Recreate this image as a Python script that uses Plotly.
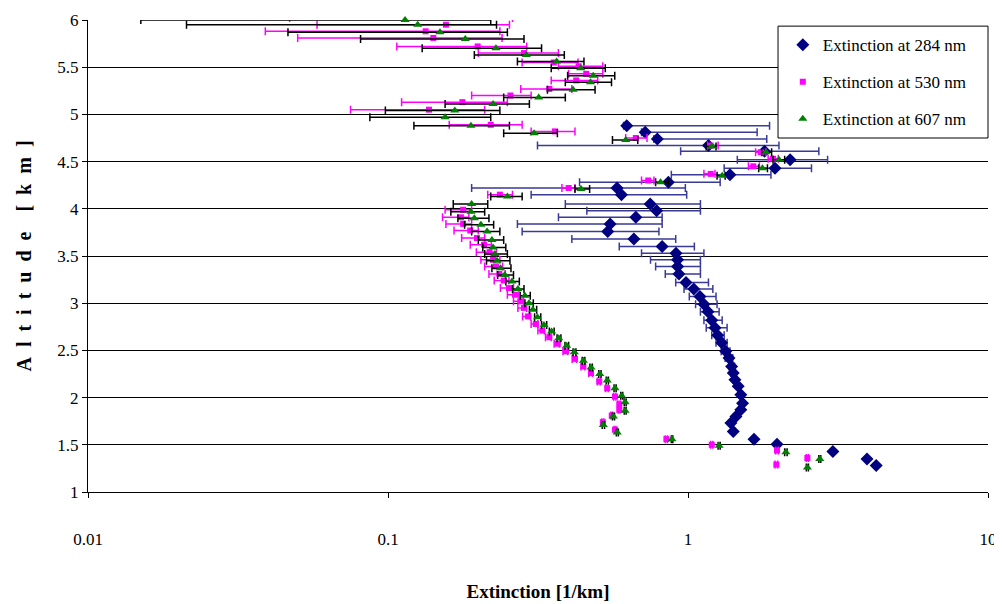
import plotly.graph_objects as go

# ---------------- data ----------------
alt_284 = [4.88, 4.81, 4.74, 4.67, 4.61, 4.52, 4.43, 4.36, 4.28, 4.22,
           4.15, 4.05, 3.98, 3.91, 3.84, 3.76, 3.68, 3.60, 3.53, 3.46,
           3.39, 3.31, 3.22, 3.15, 3.07, 2.99, 2.91, 2.82, 2.74, 2.66,
           2.58, 2.49, 2.42, 2.33, 2.26, 2.19, 2.12, 2.03, 1.94, 1.87,
           1.80, 1.73, 1.64, 1.56, 1.505, 1.43, 1.35, 1.28]
ext_284 = [0.625, 0.72, 0.79, 1.17, 1.80, 2.19, 1.95, 1.38, 0.86, 0.58,
           0.60, 0.748, 0.786, 0.67, 0.55, 0.54, 0.66, 0.82, 0.912, 0.923,
           0.923, 0.933, 0.985, 1.045, 1.096, 1.13, 1.166, 1.20, 1.23, 1.256,
           1.295, 1.336, 1.37, 1.398, 1.415, 1.434, 1.47, 1.50, 1.52, 1.50,
           1.445, 1.39, 1.415, 1.66, 1.98, 3.04, 3.95, 4.24]
lo_284 = [0.61, 0.70, 0.77, 0.315, 0.945, 1.46, 1.32, 0.88, 0.435, 0.19,
          0.30, 0.39, 0.46, 0.37, 0.27, 0.28, 0.41, 0.59, 0.70, 0.75,
          0.78, 0.84, 0.91, 0.97, 1.01, 1.06, 1.10, 1.13, 1.15, 1.20,
          1.24, 1.29, 1.33, 1.37, 1.39, 1.41, 1.45, 1.48, 1.50, 1.49,
          1.43, 1.38, 1.40, 1.65, 1.97, 3.02, 3.92, 4.21]
hi_284 = [1.87, 1.70, 1.83, 2.01, 2.73, 2.92, 2.58, 1.89, 1.28, 0.98,
          0.99, 1.10, 1.10, 0.82, 0.82, 0.80, 0.91, 1.05, 1.13, 1.10,
          1.10, 1.10, 1.17, 1.21, 1.24, 1.25, 1.27, 1.30, 1.35, 1.32,
          1.35, 1.38, 1.41, 1.43, 1.44, 1.46, 1.49, 1.52, 1.54, 1.51,
          1.46, 1.40, 1.43, 1.67, 1.99, 3.06, 3.98, 4.27]

alt_530 = [6.02, 5.95, 5.88, 5.81, 5.72, 5.65, 5.55, 5.51, 5.43, 5.36,
           5.27, 5.20, 5.13, 5.05, 4.89, 4.82, 4.75, 4.67, 4.60, 4.53,
           4.45, 4.37, 4.30, 4.22, 4.15,
           3.99, 3.91, 3.84, 3.77, 3.69, 3.62, 3.54, 3.46, 3.39, 3.31,
           3.24, 3.16, 3.09, 3.02, 2.95, 2.86, 2.78, 2.71, 2.64, 2.57,
           2.49, 2.41, 2.33, 2.26, 2.17, 2.10, 2.01, 1.93, 1.87, 1.81,
           1.74, 1.66, 1.56, 1.50, 1.44, 1.36, 1.29]
ext_530 = [0.169, 0.156, 0.1335, 0.1416, 0.199, 0.284, 0.357, 0.432, 0.458, 0.424,
           0.345, 0.256, 0.177, 0.137, 0.22, 0.36, 0.67, 1.19, 1.75, 1.92,
           1.65, 1.19, 0.737, 0.40, 0.236,
           0.178, 0.175, 0.178, 0.188, 0.198, 0.209, 0.218, 0.224, 0.229, 0.235,
           0.243, 0.253, 0.265, 0.276, 0.284, 0.293, 0.311, 0.327, 0.345, 0.368,
           0.392, 0.42, 0.448, 0.475, 0.506, 0.538, 0.571, 0.59, 0.59, 0.557,
           0.52, 0.571, 0.847, 1.2, 1.98, 2.5, 1.97]
lo_530 = [0.047, 0.058, 0.039, 0.050, 0.107, 0.20, 0.28, 0.37, 0.40, 0.35,
          0.277, 0.19, 0.111, 0.075, 0.16, 0.30, 0.62, 1.16, 1.68, 1.85,
          1.59, 1.13, 0.70, 0.38, 0.215,
          0.155, 0.152, 0.156, 0.166, 0.176, 0.188, 0.197, 0.204, 0.210, 0.217,
          0.226, 0.237, 0.25, 0.262, 0.271, 0.281, 0.30, 0.316, 0.335, 0.358,
          0.383, 0.411, 0.44, 0.467, 0.499, 0.531, 0.565, 0.584, 0.585, 0.553,
          0.516, 0.567, 0.84, 1.19, 1.96, 2.48, 1.95]
hi_530 = [0.26, 0.254, 0.236, 0.24, 0.29, 0.37, 0.43, 0.52, 0.52, 0.50,
          0.41, 0.30, 0.25, 0.21, 0.28, 0.42, 0.73, 1.26, 1.82, 2.0,
          1.73, 1.23, 0.77, 0.42, 0.26,
          0.19, 0.186, 0.19, 0.20, 0.21, 0.221, 0.23, 0.236, 0.241, 0.246,
          0.253, 0.262, 0.273, 0.283, 0.29, 0.299, 0.316, 0.332, 0.35, 0.373,
          0.397, 0.425, 0.453, 0.48, 0.51, 0.542, 0.575, 0.594, 0.594, 0.561,
          0.524, 0.575, 0.854, 1.21, 2.0, 2.52, 1.99]

alt_607 = [6.0, 5.95, 5.87, 5.80, 5.70, 5.63, 5.56, 5.49, 5.41, 5.34,
           5.26, 5.18, 5.11, 5.04, 4.97, 4.88, 4.80, 4.73, 4.66, 4.60,
           4.52, 4.43, 4.35, 4.28, 4.21, 4.13,
           4.05, 3.97, 3.90, 3.83, 3.76, 3.67, 3.59, 3.52, 3.45, 3.37,
           3.30, 3.23, 3.15, 3.08, 3.00, 2.93, 2.85, 2.77, 2.70, 2.63,
           2.55, 2.48, 2.39, 2.32, 2.25, 2.18, 2.10, 2.02, 1.95, 1.86,
           1.80, 1.71, 1.63, 1.56, 1.49, 1.42, 1.35, 1.26]
ext_607 = [0.114, 0.1256, 0.149, 0.181, 0.229, 0.289, 0.365, 0.439, 0.483, 0.473,
           0.414, 0.318, 0.224, 0.167, 0.155, 0.189, 0.307, 0.62, 1.2, 1.82,
           2.01, 1.77, 1.30, 0.81, 0.44, 0.25,
           0.19, 0.189, 0.194, 0.204, 0.214, 0.222, 0.224, 0.227, 0.231, 0.237,
           0.245, 0.259, 0.271, 0.286, 0.295, 0.304, 0.315, 0.331, 0.351, 0.371,
           0.394, 0.418, 0.448, 0.475, 0.508, 0.538, 0.571, 0.601, 0.617, 0.617,
           0.564, 0.522, 0.581, 0.884, 1.27, 2.12, 2.75, 2.5]
lo_607 = [0.015, 0.0213, 0.0464, 0.081, 0.13, 0.194, 0.27, 0.35, 0.397, 0.39,
          0.34, 0.243, 0.155, 0.098, 0.087, 0.122, 0.243, 0.56, 1.15, 1.76,
          1.92, 1.72, 1.25, 0.78, 0.42, 0.22,
          0.165, 0.162, 0.171, 0.18, 0.19, 0.20, 0.207, 0.21, 0.213, 0.222,
          0.232, 0.247, 0.26, 0.276, 0.286, 0.296, 0.308, 0.325, 0.345, 0.366,
          0.389, 0.414, 0.444, 0.471, 0.504, 0.534, 0.567, 0.597, 0.613, 0.613,
          0.56, 0.518, 0.577, 0.88, 1.26, 2.1, 2.73, 2.48]
hi_607 = [0.22, 0.23, 0.25, 0.284, 0.325, 0.387, 0.45, 0.53, 0.57, 0.556,
          0.49, 0.39, 0.296, 0.236, 0.22, 0.254, 0.367, 0.68, 1.24, 1.90,
          2.10, 1.84, 1.33, 0.86, 0.47, 0.28,
          0.215, 0.21, 0.217, 0.225, 0.236, 0.243, 0.247, 0.25, 0.255, 0.257,
          0.262, 0.274, 0.284, 0.298, 0.305, 0.313, 0.323, 0.338, 0.358, 0.377,
          0.40, 0.423, 0.453, 0.48, 0.513, 0.543, 0.576, 0.606, 0.622, 0.622,
          0.569, 0.527, 0.586, 0.89, 1.28, 2.14, 2.77, 2.52]

x_ticks = [0.01, 0.1, 1, 10]
x_tick_labels = ["0.01", "0.1", "1", "10"]
y_ticks = [1, 1.5, 2, 2.5, 3, 3.5, 4, 4.5, 5, 5.5, 6]
y_tick_labels = ["1", "1.5", "2", "2.5", "3", "3.5", "4", "4.5", "5", "5.5", "6"]

series = [
    ("Extinction at 284 nm", alt_284, ext_284, lo_284, hi_284,
     dict(symbol="diamond", size=10, color="#000080"), "#3A3A99", 4),
    ("Extinction at 530 nm", alt_530, ext_530, lo_530, hi_530,
     dict(symbol="square", size=6, color="#FF00FF"), "#FF00FF", 4),
    ("Extinction at 607 nm", alt_607, ext_607, lo_607, hi_607,
     dict(symbol="triangle-up", size=8, color="#008000"), "#000000", 4),
]

FONT = "Liberation Serif, Times New Roman, serif"
ES = "\u2002"  # en space used for the letter-spaced axis title
y_title = ES.join(list("Altitude")) + ES + ES + ES.join(list("[km]"))

fig = go.Figure()
for i, (name, alt, ext, lo, hi, mk, ecol, cw) in enumerate(series):
    plus = [h - e for h, e in zip(hi, ext)]
    minus = [e - l for e, l in zip(ext, lo)]
    fig.add_trace(go.Scatter(
        x=ext, y=alt, mode="markers", name=name, legendgroup=name,
        marker=dict(symbol=mk["symbol"], size=mk["size"], color=mk["color"], line=dict(width=0)),
        error_x=dict(type="data", symmetric=False, array=plus, arrayminus=minus,
                     color=ecol, thickness=1.5, width=cw),
        cliponaxis=False,
    ))

# legend frame (drawn as a shape so it can span the full legend width)
fig.add_shape(type="rect", xref="paper", yref="paper",
              x0=0.7667, x1=1.0, y0=0.75, y1=0.987,
              line=dict(color="black", width=1), fillcolor="white", layer="above")

# the page body adds an 8 px offset, so the figure is 994x596
fig.update_layout(
    width=994, height=596,
    margin=dict(l=80, r=14, t=12, b=112, autoexpand=False),
    paper_bgcolor="white", plot_bgcolor="white",
    font=dict(family=FONT, size=16, color="black"),
    showlegend=True,
    legend=dict(x=0.772, y=0.985, xanchor="left", yanchor="top",
                bgcolor="rgba(0,0,0,0)", borderwidth=0,
                font=dict(family=FONT, size=17, color="black"),
                tracegroupgap=12, itemwidth=30),
    xaxis=dict(type="log", range=[-2, 1], tickvals=x_ticks, ticktext=x_tick_labels,
               automargin=False,
               showgrid=False, showline=True, linecolor="black", linewidth=1,
               ticks="outside", ticklen=5, tickcolor="black",
               ticklabelstandoff=27, zeroline=False,
               tickfont=dict(family=FONT, size=17),
               title=dict(text="<b>Extinction [1/km]</b>", font=dict(family=FONT, size=19),
                          standoff=36)),
    yaxis=dict(range=[1, 6], tickvals=y_ticks, ticktext=y_tick_labels,
               automargin=False,
               showgrid=True, gridcolor="black", gridwidth=1,
               showline=True, linecolor="black", linewidth=1,
               ticks="outside", ticklen=5, tickcolor="black", zeroline=False,
               tickfont=dict(family=FONT, size=17),
               title=dict(text="<b>" + y_title + "</b>", font=dict(family=FONT, size=20),
                          standoff=20)),
)

fig.write_html("out.html")
